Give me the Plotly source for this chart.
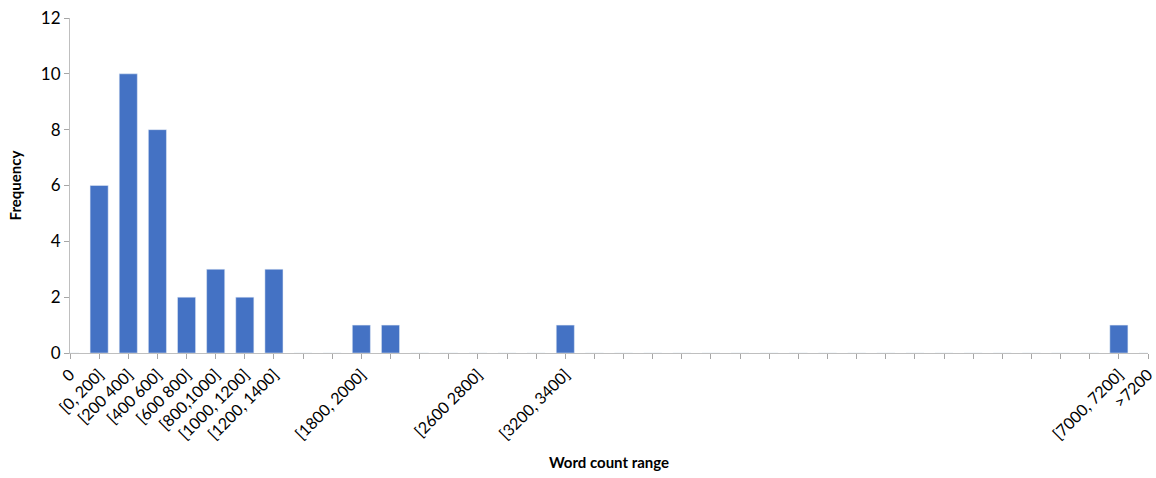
import plotly.graph_objects as go

categories = ["0"] + [f"[{a}, {a+200}]" for a in range(0, 7200, 200)] + [">7200"]
values = [0, 6, 10, 8, 2, 3, 2, 3, 0, 0, 1, 1, 0, 0, 0, 0, 0, 1] + [0] * 18 + [1, 0]
shown_labels = {0: "0", 1: "[0, 200]", 2: "[200 400]", 3: "[400 600]", 4: "[600 800]",
                5: "[800,1000]", 6: "[1000, 1200]", 7: "[1200, 1400]", 10: "[1800, 2000]",
                14: "[2600 2800]", 17: "[3200, 3400]", 36: "[7000, 7200]", 37: ">7200"}
y_ticks = [0, 2, 4, 6, 8, 10, 12]

idx = list(range(len(categories)))
ticktext = [shown_labels.get(i, "") for i in idx]

fig = go.Figure(go.Bar(x=idx, y=values, width=0.62, marker_color="#4472C4",
                       hovertext=categories))
font = "Lato, Carlito, Calibri, sans-serif"
fig.update_layout(
    width=1156, height=478, margin=dict(l=70, r=8, t=18, b=125),
    plot_bgcolor="white", paper_bgcolor="white", showlegend=False,
    font=dict(family=font, size=16, color="#000000"),
    xaxis=dict(range=[0, 37], tickmode="array", tickvals=idx, ticktext=ticktext,
               tickangle=-45, ticks="outside", ticklen=5, tickcolor="#a6a6a6",
               showline=True, linecolor="#bfbfbf", linewidth=1, showgrid=False, zeroline=False,
               tickfont=dict(size=16), automargin=False,
               title=dict(text="<b>Word count range</b>", font=dict(size=15))),
    yaxis=dict(range=[0, 12], tickvals=y_ticks, ticks="outside", ticklen=5, tickcolor="#a6a6a6",
               showline=True, linecolor="#bfbfbf", linewidth=1, showgrid=False, zeroline=False,
               tickfont=dict(size=17), automargin=False,
               title=dict(text="<b>Frequency</b>", font=dict(size=15))),
)
fig.write_html("out.html", config={"displayModeBar": False},
               post_script="document.body.style.margin='0';")
